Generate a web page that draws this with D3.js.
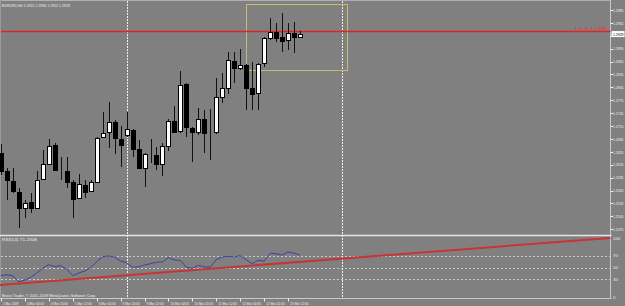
<!DOCTYPE html>
<html>
<head>
<meta charset="utf-8">
<script src="https://cdn.jsdelivr.net/npm/d3@7.9.0/dist/d3.min.js"></script>
<style>
  html, body { margin: 0; padding: 0; background: #808080; overflow: hidden; }
  svg { display: block; font-family: "Liberation Sans", Arial, sans-serif; }
</style>
</head>
<body>
<div id="chart"></div>
<script>
// --- data (EURUSD H4, early March 2009) ---
const opens  = [1.2652, 1.2611, 1.2587, 1.2562, 1.2525, 1.2539, 1.2525, 1.2592, 1.2627, 1.2671,
                1.2613, 1.2611, 1.2585, 1.2548, 1.2578, 1.2564, 1.2585, 1.2690, 1.2701, 1.2725,
                1.2685, 1.2694, 1.2706, 1.2662, 1.2618, 1.2650, 1.2648, 1.2627, 1.2669, 1.2727,
                1.2704, 1.2813, 1.2711, 1.2701, 1.2732, 1.2699, 1.2701, 1.2783, 1.2804, 1.2866,
                1.2850, 1.2857, 1.2804, 1.2792, 1.2862, 1.2920, 1.2934, 1.2922, 1.2915, 1.2932, 1.2922];
const highs  = [1.2673, 1.2618, 1.2618, 1.2571, 1.2543, 1.2559, 1.2611, 1.2659, 1.2685, 1.2676,
                1.2643, 1.2643, 1.2590, 1.2604, 1.2590, 1.2590, 1.2690, 1.2748, 1.2771, 1.2729,
                1.2715, 1.2748, 1.2708, 1.2683, 1.2652, 1.2685, 1.2666, 1.2676, 1.2732, 1.2762,
                1.2843, 1.2815, 1.2713, 1.2757, 1.2752, 1.2755, 1.2827, 1.2839, 1.2887, 1.2887,
                1.2894, 1.2859, 1.2864, 1.2861, 1.2922, 1.2966, 1.2955, 1.2978, 1.2955, 1.2957, 1.2936];
const lows   = [1.2601, 1.2543, 1.2559, 1.2478, 1.2501, 1.2513, 1.2522, 1.2590, 1.2625, 1.2611,
                1.2590, 1.2571, 1.2501, 1.2546, 1.2548, 1.2562, 1.2583, 1.2687, 1.2664, 1.2650,
                1.2620, 1.2690, 1.2643, 1.2615, 1.2573, 1.2629, 1.2613, 1.2599, 1.2657, 1.2699,
                1.2699, 1.2690, 1.2632, 1.2694, 1.2652, 1.2636, 1.2697, 1.2769, 1.2790, 1.2815,
                1.2846, 1.2752, 1.2752, 1.2752, 1.2852, 1.2915, 1.2911, 1.2887, 1.2892, 1.2885, 1.2922];
const closes = [1.2611, 1.2590, 1.2564, 1.2525, 1.2536, 1.2525, 1.2590, 1.2627, 1.2669, 1.2613,
                1.2612, 1.2585, 1.2546, 1.2580, 1.2562, 1.2585, 1.2687, 1.2699, 1.2725, 1.2687,
                1.2671, 1.2708, 1.2662, 1.2618, 1.2650, 1.2651, 1.2627, 1.2669, 1.2727, 1.2701,
                1.2811, 1.2713, 1.2701, 1.2732, 1.2699, 1.2700, 1.2783, 1.2804, 1.2869, 1.2850,
                1.2857, 1.2804, 1.2790, 1.2859, 1.2920, 1.2934, 1.2920, 1.2913, 1.2932, 1.2922, 1.2929];

const rsiValues = [36.2, 37.9, 35.6, 25.4, 28.8, 33.3, 40.7, 49.2, 54.8, 51.4,
                   53.1, 46.9, 36.2, 40.7, 44.1, 49.7, 59.9, 68.4, 69.5, 67.8,
                   61.0, 58.2, 50.3, 51.4, 54.2, 56.5, 58.8, 59.3, 66.7, 62.7,
                   62.1, 50.3, 48.6, 53.7, 50.8, 50.8, 63.3, 67.8, 68.9, 67.8,
                   70.1, 63.3, 56.5, 62.1, 61.0, 74.0, 73.4, 71.2, 76.3, 74.0, 71.2];

const timeLabelBars = [0, 4, 8, 12, 16, 20, 24, 28, 32, 36, 40, 44, 48];
const timeLabels = ["2 Mar 2009", "4 Mar 04:00", "4 Mar 20:00", "5 Mar 12:00", "6 Mar 04:00",
                    "6 Mar 20:00", "9 Mar 12:00", "10 Mar 04:00", "10 Mar 20:00", "11 Mar 12:00",
                    "12 Mar 04:00", "12 Mar 20:00", "13 Mar 12:00"];
const priceTicks = d3.range(18).map(i => +(1.2985 - i * 0.003).toFixed(4));
const rsiLevels = [70, 50, 30];
const rsiAxisTicks = [100, 70, 50, 30, 0];
const separatorBars = [21, 57];          // weekly period separators
const hLinePrice = 1.2936;               // red horizontal line
const trendPoints = [[-0.2, 20.5], [101.9, 100]];   // red trend line on the RSI
const boxBars = [41, 57.85], boxPrices = [1.2999, 1.2846];

const titleText = "EURUSD,H4  1.2922 1.2936 1.2922 1.2929";
const rsiTitle = "RSI(14) 71.2308";
const copyText = "Broco Trader, \u00a9 2001-2009 MetaQuotes Software Corp.";

// --- layout ---
const W = 625, H = 306;
const plotRight = 610.5;
const rsiBottom = 298.5;

const svg = d3.select("#chart").append("svg")
  .attr("width", W).attr("height", H);

svg.append("rect").attr("width", W).attr("height", H).attr("fill", "#808080");

// scales
const x = d3.scaleLinear().domain([0, 50]).range([1, 300]);
const y = d3.scaleLinear().domain([1.2475, 1.2985]).range([229.3, 10]);
const yRsi = d3.scaleLinear().domain([0, 100]).range([297, 238]);

const fmt = d3.format(".4f");
const txtColor = "#efefef";
const lastClose = closes[closes.length - 1];

// small helper: tiny MT4-style text squeezed to a given width
function tiny(sel, len) {
  return sel.style("font-size", "4.3px")
    .attr("textLength", len)
    .attr("lengthAdjust", "spacingAndGlyphs");
}

// frame lines
svg.append("line").attr("x1", 0).attr("x2", plotRight).attr("y1", 0.5).attr("y2", 0.5)
  .attr("stroke", "#b0b0b0");
svg.append("line").attr("x1", 0.5).attr("x2", 0.5).attr("y1", 0).attr("y2", rsiBottom)
  .attr("stroke", "#9a9a9a");
svg.append("line").attr("x1", plotRight).attr("x2", plotRight).attr("y1", 0).attr("y2", rsiBottom)
  .attr("stroke", "#c8c8c8");
svg.append("line").attr("x1", 0).attr("x2", plotRight + 1).attr("y1", 235.5).attr("y2", 235.5)
  .attr("stroke", "#e6e6e6").attr("stroke-width", 1.5);
svg.append("line").attr("x1", 0).attr("x2", plotRight + 1).attr("y1", rsiBottom).attr("y2", rsiBottom)
  .attr("stroke", "#c8c8c8");

// RSI level lines
svg.append("g").selectAll("line")
  .data(rsiLevels)
  .join("line")
    .attr("x1", 1).attr("x2", plotRight)
    .attr("y1", d => Math.round(yRsi(d)) + 0.5)
    .attr("y2", d => Math.round(yRsi(d)) + 0.5)
    .attr("stroke", "#c8c8c8")
    .attr("stroke-dasharray", "2,2");

// period separators
svg.append("g").selectAll("line")
  .data(separatorBars)
  .join("line")
    .attr("x1", d => Math.round(x(d)) + 0.5)
    .attr("x2", d => Math.round(x(d)) + 0.5)
    .attr("y1", 1).attr("y2", rsiBottom)
    .attr("stroke", "#f0f0f0")
    .attr("stroke-dasharray", "2,1");

// price axis ticks and labels (the bid marker hides the tick label it covers)
const pAxis = svg.append("g");
pAxis.selectAll("line")
  .data(priceTicks)
  .join("line")
    .attr("x1", plotRight).attr("x2", plotRight + 2.5)
    .attr("y1", d => Math.round(y(d)) + 0.5)
    .attr("y2", d => Math.round(y(d)) + 0.5)
    .attr("stroke", txtColor);
pAxis.selectAll("text")
  .data(priceTicks.filter(d => Math.abs(y(d) - y(lastClose)) > 5))
  .join("text")
    .attr("x", plotRight + 2.5)
    .attr("y", d => y(d) + 1.6)
    .attr("fill", txtColor)
    .call(tiny, 10.5)
    .text(fmt);

// yellow box
svg.append("rect")
  .attr("x", Math.round(x(boxBars[0])) + 0.5)
  .attr("y", Math.round(y(boxPrices[0])) + 0.5)
  .attr("width", Math.round(x(boxBars[1]) - x(boxBars[0])))
  .attr("height", Math.round(y(boxPrices[1]) - y(boxPrices[0])))
  .attr("fill", "none")
  .attr("stroke", "#c8bc72");

// red horizontal line
svg.append("line")
  .attr("x1", 1).attr("x2", plotRight)
  .attr("y1", Math.round(y(hLinePrice)) + 0.5)
  .attr("y2", Math.round(y(hLinePrice)) + 0.5)
  .attr("stroke", "#e02424")
  .attr("stroke-width", 1.3);
svg.append("text")
  .attr("x", 575)
  .attr("y", y(hLinePrice) - 0.6)
  .attr("fill", "#f03030")
  .call(tiny, 32)
  .text("Level " + fmt(hLinePrice));

// candles
const bars = d3.range(opens.length).map(i => ({
  i, o: opens[i], h: highs[i], l: lows[i], c: closes[i]
}));

const candles = svg.append("g").selectAll("g")
  .data(bars)
  .join("g");

candles.append("line")
  .attr("x1", d => Math.round(x(d.i)) + 0.5)
  .attr("x2", d => Math.round(x(d.i)) + 0.5)
  .attr("y1", d => Math.round(y(d.h)))
  .attr("y2", d => Math.round(y(d.l)))
  .attr("stroke", "#111");

candles.append("rect")
  .attr("x", d => Math.round(x(d.i)) - 1.5)
  .attr("y", d => Math.round(y(Math.max(d.o, d.c))) + 0.5)
  .attr("width", 4)
  .attr("height", d => Math.max(0, Math.round(y(Math.min(d.o, d.c))) - Math.round(y(Math.max(d.o, d.c)))))
  .attr("fill", d => d.c >= d.o ? "#ffffff" : "#000000")
  .attr("stroke", "#000");

// current price marker
svg.append("rect")
  .attr("x", plotRight + 1).attr("y", y(lastClose) - 3)
  .attr("width", 13).attr("height", 6)
  .attr("fill", "#ffffff");
svg.append("text")
  .attr("x", plotRight + 2.5).attr("y", y(lastClose) + 1.6)
  .attr("fill", "#000")
  .call(tiny, 10.5)
  .text(fmt(lastClose));

// RSI line
svg.append("path")
  .datum(rsiValues)
  .attr("fill", "none")
  .attr("stroke", "#3f3fa6")
  .attr("stroke-width", 1)
  .attr("d", d3.line().x((d, i) => x(i)).y(d => yRsi(d)));

// trend line on RSI
svg.append("path")
  .datum(trendPoints)
  .attr("fill", "none")
  .attr("stroke", "#c83434")
  .attr("stroke-width", 2)
  .attr("d", d3.line().x(d => x(d[0])).y(d => yRsi(d[1])));

// RSI axis labels
svg.append("g").selectAll("text")
  .data(rsiAxisTicks)
  .join("text")
    .attr("x", plotRight + 2.5)
    .attr("y", d => yRsi(d) + 1.6)
    .attr("fill", txtColor)
    .style("font-size", "4.3px")
    .text(d => d);

// time axis
const tAxis = svg.append("g");
tAxis.selectAll("line")
  .data(timeLabelBars)
  .join("line")
    .attr("x1", d => Math.round(x(d)) + 0.5)
    .attr("x2", d => Math.round(x(d)) + 0.5)
    .attr("y1", rsiBottom).attr("y2", rsiBottom + 3)
    .attr("stroke", txtColor);
tAxis.selectAll("text")
  .data(timeLabelBars)
  .join("text")
    .attr("x", d => x(d) + 2)
    .attr("y", 304.5)
    .attr("fill", txtColor)
    .each(function(d, i) { tiny(d3.select(this), timeLabels[i].length * 1.55); })
    .text((d, i) => timeLabels[i]);

// titles
svg.append("text").attr("x", 2).attr("y", 6.5)
  .attr("fill", txtColor).call(tiny, 68).text(titleText);
svg.append("text").attr("x", 2).attr("y", 241)
  .attr("fill", txtColor).call(tiny, 35).text(rsiTitle);
svg.append("text").attr("x", 2).attr("y", 297)
  .attr("fill", txtColor).call(tiny, 94).text(copyText);
</script>
</body>
</html>
